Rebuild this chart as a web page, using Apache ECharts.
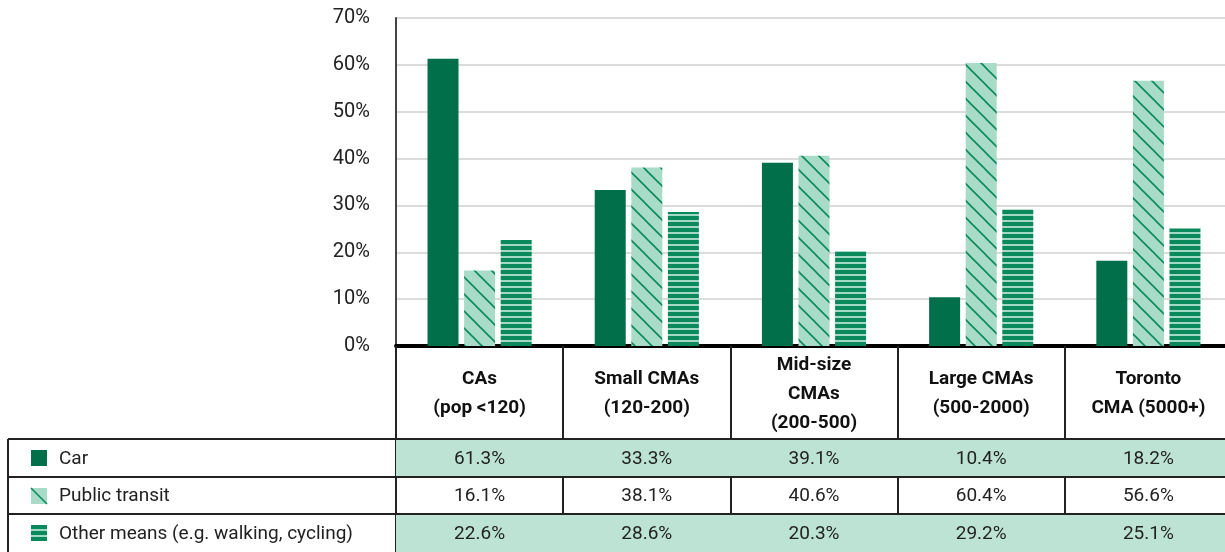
<!DOCTYPE html>
<html>
<head>
<meta charset="utf-8">
<script src="https://cdn.jsdelivr.net/npm/echarts/dist/echarts.min.js"></script>
<style>
  html, body { margin: 0; padding: 0; background: #fff; }
  #chart { width: 1225px; height: 552px; }
</style>
</head>
<body>
<div id="chart"></div>
<script>
var categories = ["CAs\n(pop <120)", "Small CMAs\n(120-200)", "Mid-size\nCMAs\n(200-500)", "Large CMAs\n(500-2000)", "Toronto\nCMA (5000+)"];
var seriesNames = ["Car", "Public transit", "Other means (e.g. walking, cycling)"];
var carData = [61.3, 33.3, 39.1, 10.4, 18.2];
var transitData = [16.1, 38.1, 40.6, 60.4, 56.6];
var otherData = [22.6, 28.6, 20.3, 29.2, 25.1];
var yMin = 0, yMax = 70, yStep = 10;

var FONT = "Roboto, 'Liberation Sans', sans-serif";
var dark = "#006f4a";
var mid = "#0a8a5c";
var light = "#a8dcc8";
var cellBg = "#bde3d5";

// hatch patterns
function diagPattern() {
  var c = document.createElement("canvas");
  c.width = 17; c.height = 17;
  var ctx = c.getContext("2d");
  ctx.fillStyle = light;
  ctx.fillRect(0, 0, 17, 17);
  ctx.strokeStyle = mid;
  ctx.lineWidth = 1.6;
  for (var k = -1; k <= 1; k++) {
    ctx.beginPath();
    ctx.moveTo(-2 + k * 17, -2);
    ctx.lineTo(19 + k * 17, 19);
    ctx.stroke();
  }
  return c;
}
function stripePattern() {
  var c = document.createElement("canvas");
  c.width = 6; c.height = 6;
  var ctx = c.getContext("2d");
  ctx.fillStyle = "#a2d9c4";
  ctx.fillRect(0, 0, 6, 6);
  ctx.fillStyle = mid;
  ctx.fillRect(0, 0, 6, 4);
  return c;
}
var diag = diagPattern();
var stripes = stripePattern();

var myChart = echarts.init(document.getElementById("chart"));

myChart.setOption({
  animation: false,
  grid: {
    left: 396,
    top: 18,
    width: 836,
    height: 328,
    outerBoundsMode: "none",
    containLabel: false
  },
  xAxis: {
    type: "category",
    data: categories,
    axisLine: {
      lineStyle: { color: "#000", width: 4 }
    },
    axisTick: {
      show: true,
      interval: 0,
      length: 210,
      lineStyle: { color: "#222", width: 2 }
    },
    axisLabel: {
      interval: 0,
      margin: 48,
      verticalAlign: "middle",
      fontFamily: FONT,
      fontWeight: "bold",
      fontSize: 19,
      lineHeight: 29,
      color: "#111"
    }
  },
  yAxis: {
    type: "value",
    min: yMin,
    max: yMax,
    interval: yStep,
    axisLine: {
      show: true,
      lineStyle: { color: "#444", width: 2 }
    },
    axisTick: { show: false },
    splitLine: {
      lineStyle: { color: "#dcdcdc", width: 2 }
    },
    axisLabel: {
      margin: 26,
      formatter: "{value}%",
      fontFamily: FONT,
      fontSize: 20,
      color: "#222"
    }
  },
  series: [
    {
      name: seriesNames[0],
      type: "bar",
      barWidth: 31,
      barGap: "18%",
      data: carData,
      itemStyle: { color: dark }
    },
    {
      name: seriesNames[1],
      type: "bar",
      barWidth: 31,
      barGap: "18%",
      data: transitData,
      itemStyle: { color: { image: diag, repeat: "repeat" } }
    },
    {
      name: seriesNames[2],
      type: "bar",
      barWidth: 31,
      barGap: "18%",
      data: otherData,
      itemStyle: { color: { image: stripes, repeat: "repeat" } }
    }
  ]
});

// data table under the chart
var rowTop = [439, 477, 514];
var rowBottom = [477, 514, 552];
var rowValues = [carData, transitData, otherData];
var tableLeft = 8, plotLeft = 396, rightEdge = 1225;
var g = [];

// shaded rows
[0, 2].forEach(function (r) {
  g.push({
    type: "rect",
    z: 1,
    shape: { x: plotLeft, y: rowTop[r], width: rightEdge - plotLeft, height: rowBottom[r] - rowTop[r] },
    style: { fill: cellBg }
  });
});

// row lines
rowTop.forEach(function (y) {
  g.push({
    type: "line",
    z: 5,
    shape: { x1: tableLeft, y1: y, x2: rightEdge, y2: y },
    style: { stroke: "#222", lineWidth: 2 }
  });
});
g.push({
  type: "line",
  z: 5,
  shape: { x1: tableLeft, y1: rowTop[0], x2: tableLeft, y2: 552 },
  style: { stroke: "#222", lineWidth: 2 }
});

// legend keys
var keyX = 31, keySize = 16;
rowTop.forEach(function (t, r) {
  var cy = (t + rowBottom[r]) / 2;
  var ky = Math.round(cy - keySize / 2);
  if (r === 0) {
    g.push({ type: "rect", z: 6, shape: { x: keyX, y: ky, width: keySize, height: keySize }, style: { fill: dark } });
  } else if (r === 1) {
    g.push({ type: "rect", z: 6, shape: { x: keyX, y: ky, width: keySize, height: keySize }, style: { fill: light } });
    g.push({ type: "line", z: 7, shape: { x1: keyX, y1: ky, x2: keyX + keySize, y2: ky + keySize }, style: { stroke: mid, lineWidth: 1.6 } });
  } else {
    g.push({ type: "rect", z: 6, shape: { x: keyX, y: ky, width: keySize, height: keySize }, style: { fill: "#a2d9c4" } });
    [0, 6, 12].forEach(function (o) {
      g.push({ type: "rect", z: 7, shape: { x: keyX, y: ky + o, width: keySize, height: 4 }, style: { fill: mid } });
    });
  }
  g.push({
    type: "text",
    z: 8,
    style: {
      x: 59, y: cy + 1,
      text: seriesNames[r],
      font: "19px " + FONT,
      fill: "#222",
      align: "left",
      verticalAlign: "middle"
    }
  });
  rowValues[r].forEach(function (v, i) {
    var px = myChart.convertToPixel({ xAxisIndex: 0 }, i);
    g.push({
      type: "text",
      z: 8,
      style: {
        x: px, y: cy + 1,
        text: v.toFixed(1) + "%",
        font: "19px " + FONT,
        fill: "#222",
        align: "center",
        verticalAlign: "middle"
      }
    });
  });
});

myChart.setOption({ graphic: g });
</script>
</body>
</html>
